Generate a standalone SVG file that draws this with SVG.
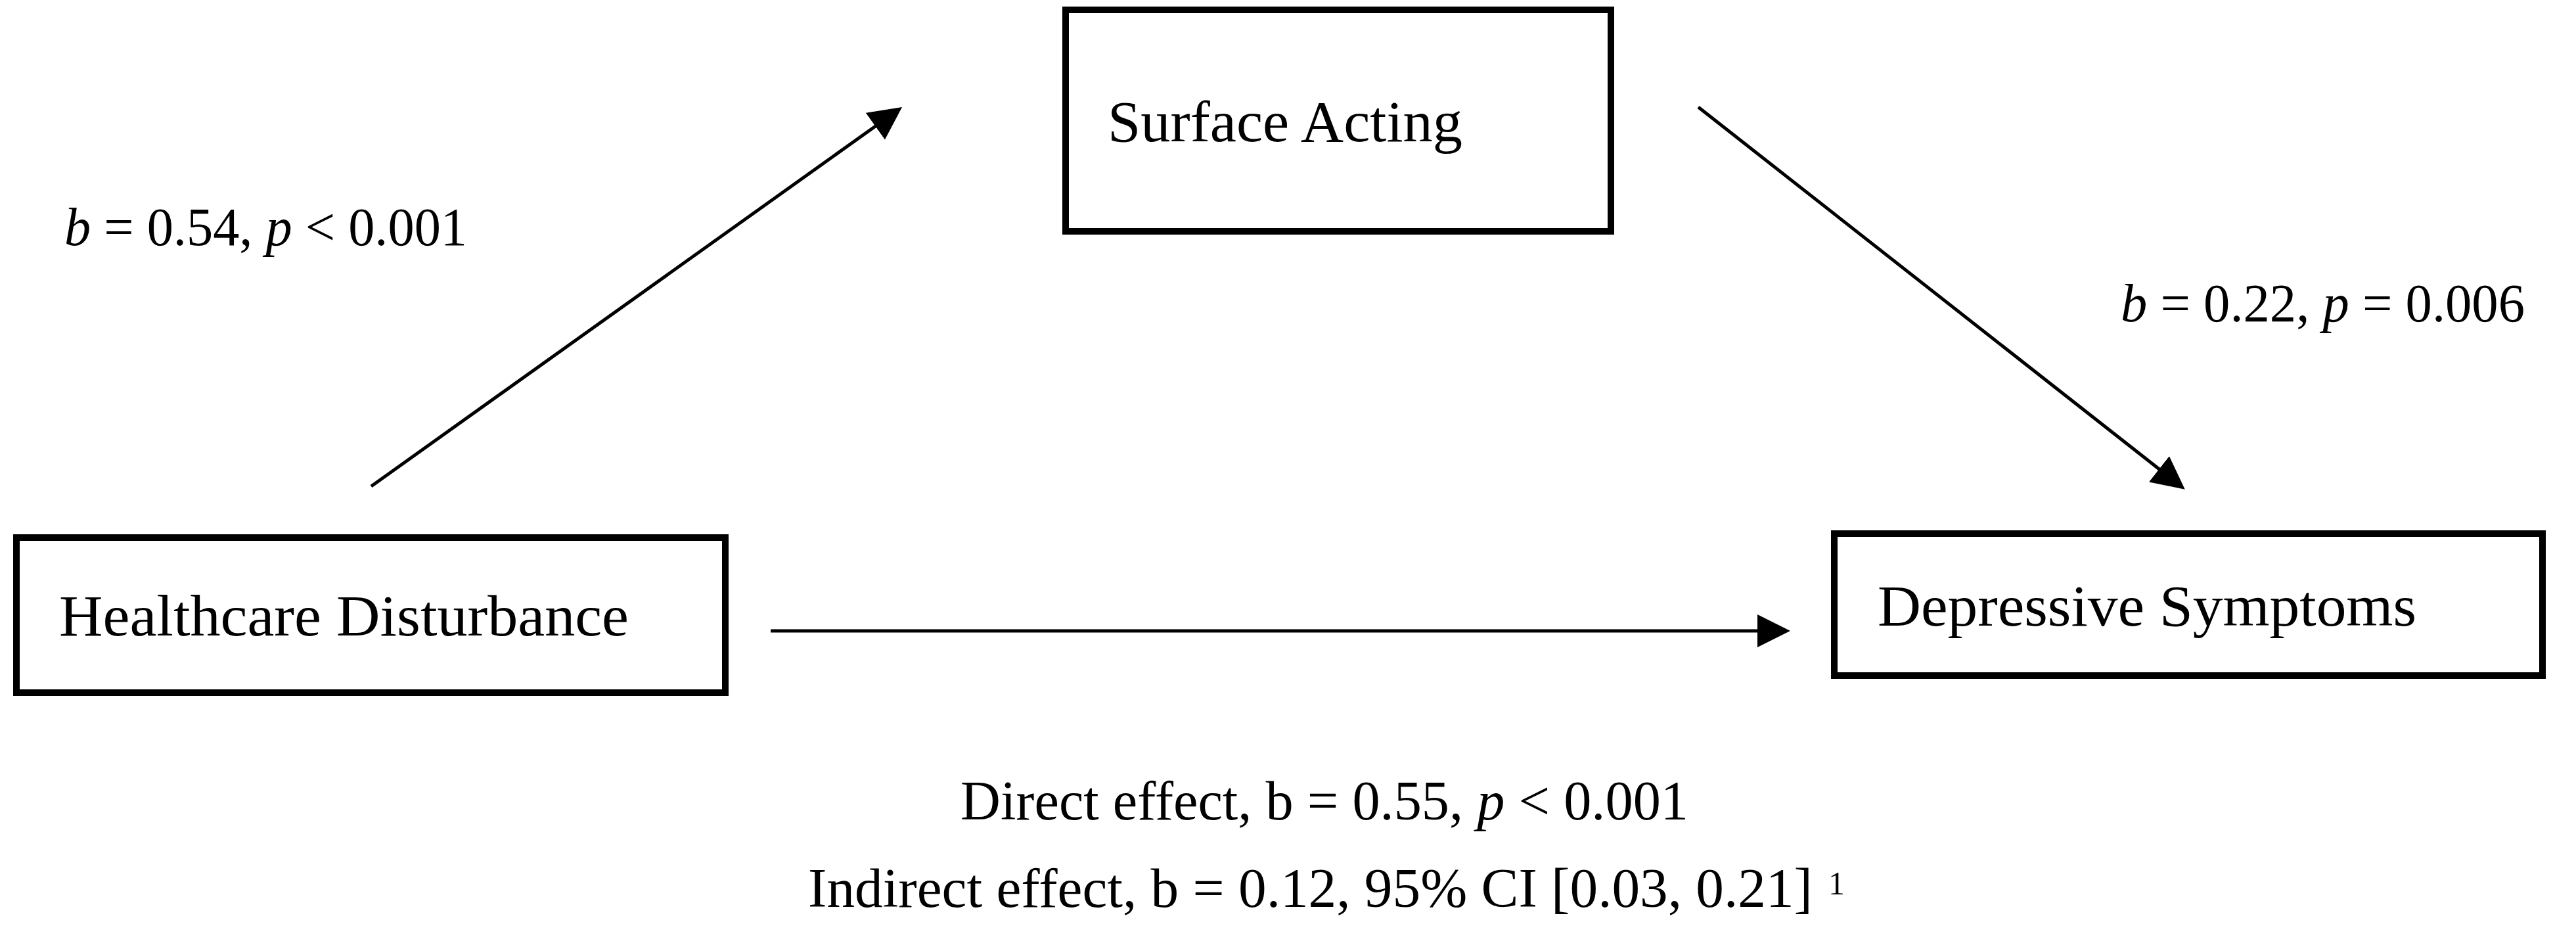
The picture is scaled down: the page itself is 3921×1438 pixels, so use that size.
<svg xmlns="http://www.w3.org/2000/svg" width="3921" height="1438" viewBox="0 0 3921 1438">
<style>
.box{fill:#fff;stroke:#000;stroke-width:10}
.node{font-family:"Liberation Serif","Times New Roman",serif;font-size:88px;fill:#000}
.lbl{font-family:"Liberation Serif","Times New Roman",serif;font-size:82px;fill:#000}
.eff{font-family:"Liberation Serif","Times New Roman",serif;font-size:84px;fill:#000}
.it{font-style:italic}
.edge{stroke:#000;stroke-width:5;fill:none;marker-end:url(#arr)}
</style>
<defs>
<marker id="arr" markerUnits="userSpaceOnUse" markerWidth="50" markerHeight="50" refX="2" refY="25" orient="auto" viewBox="0 0 50 50">
<path d="M0,0 L50,25 L0,50 Z" fill="#000"/>
</marker>
</defs>
<rect width="3921" height="1438" fill="#fff"/>
<g id="connectors">
<line class="edge" x1="565" y1="740" x2="1334" y2="191"/>
<line class="edge" x1="2585" y1="163" x2="3288" y2="715"/>
<line class="edge" x1="1173" y1="960" x2="2677" y2="960"/>
</g>
<g id="node-surface">
<rect class="box" x="1622" y="15" width="830" height="337"/>
<text class="node" x="1686" y="215" textLength="540" lengthAdjust="spacingAndGlyphs">Surface Acting</text>
</g>
<g id="node-healthcare">
<rect class="box" x="25" y="818" width="1079" height="236"/>
<text class="node" x="90" y="967" textLength="867" lengthAdjust="spacingAndGlyphs">Healthcare Disturbance</text>
</g>
<g id="node-depressive">
<rect class="box" x="2792" y="812" width="1078" height="216"/>
<text class="node" x="2858" y="952" textLength="820" lengthAdjust="spacingAndGlyphs">Depressive Symptoms</text>
</g>
<g id="labels">
<text class="lbl" x="98" y="373" textLength="613" lengthAdjust="spacingAndGlyphs"><tspan class="it">b</tspan> = 0.54, <tspan class="it">p</tspan> &lt; 0.001</text>
<text class="lbl" x="3228" y="489" textLength="615" lengthAdjust="spacingAndGlyphs"><tspan class="it">b</tspan> = 0.22, <tspan class="it">p</tspan> = 0.006</text>
<text class="eff" x="1462" y="1247" textLength="1108" lengthAdjust="spacingAndGlyphs">Direct effect, b = 0.55, <tspan class="it">p</tspan> &lt; 0.001</text>
<text class="eff" x="1230" y="1380" textLength="1529" lengthAdjust="spacingAndGlyphs">Indirect effect, b = 0.12, 95% CI [0.03, 0.21]</text>
<text class="eff" x="2783" y="1361" style="font-size:50px">1</text>
</g>
</svg>
